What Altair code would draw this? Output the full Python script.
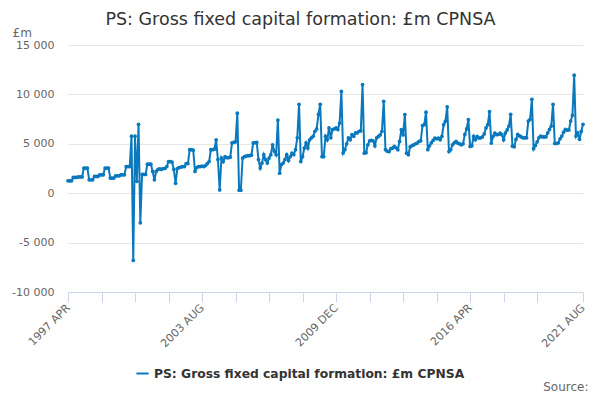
import altair as alt
import pandas as pd

series_name = "PS: Gross fixed capital formation: £m CPNSA"
start_year = 1997
start_month = 4
month_names = ["JAN", "FEB", "MAR", "APR", "MAY", "JUN",
               "JUL", "AUG", "SEP", "OCT", "NOV", "DEC"]

# £m, monthly from 1997 APR to 2021 AUG
gfcf = [
    1250, 1250, 1250, 1600, 1600, 1600, 1650, 1650, 1650,                  # 1997 APR-DEC
    2540, 2540, 2540, 1360, 1360, 1360, 1700, 1700, 1700, 1860, 1860, 1860,  # 1998
    2540, 2540, 2540, 1530, 1530, 1530, 1760, 1760, 1760, 1860, 1860, 1860,  # 1999
    2700, 2700, 2700, 5770, -6800, 5770, 1200, 6970, -3000, 1900, 1900, 1900,  # 2000
    2940, 2940, 2940, 2200, 1350, 2200, 2400, 2450, 2400, 2500, 2500, 2700,  # 2001
    3200, 3200, 3150, 2400, 1000, 2500, 2600, 2650, 2700, 2700, 3000, 3000,  # 2002
    4400, 4400, 4350, 2200, 2600, 2700, 2700, 2750, 2700, 2800, 3000, 3200,  # 2003
    4400, 4400, 4450, 5400, 3400, 330, 3560, 3200, 3700, 3600, 3600, 3650,   # 2004
    5100, 5150, 5200, 8100, 300, 300, 3560, 3700, 3750, 3800, 3800, 3850,    # 2005
    5100, 5100, 5150, 3400, 2540, 3050, 3900, 3400, 3050, 3560, 3900, 4900,  # 2006
    4240, 3900, 7400, 2030, 2900, 3050, 3400, 3900, 3300, 3700, 4050, 3900,  # 2007
    4400, 5600, 9000, 3200, 3700, 4570, 5100, 4570, 5400, 5600, 5760, 6270,  # 2008
    6500, 7970, 9000, 3700, 3700, 5760, 5400, 6600, 5600, 6440, 6500, 6600,  # 2009
    6440, 7100, 10300, 4070, 4400, 5000, 5600, 5400, 5930, 5760, 6100, 6100,  # 2010
    6270, 6300, 11000, 4050, 4100, 4900, 5300, 5350, 5300, 4800, 5600, 5750,  # 2011
    5900, 6260, 9300, 4400, 4250, 4200, 4500, 4560, 4730, 4600, 4400, 5240,  # 2012
    6430, 5900, 7960, 4050, 3900, 4700, 4800, 4900, 5000, 5070, 5240, 5300,  # 2013
    6840, 6940, 8200, 4400, 4800, 5100, 5340, 5580, 5500, 5580, 5400, 5750,  # 2014
    6940, 7280, 8740, 4220, 4400, 4900, 5100, 5240, 5070, 5000, 4900, 5000,  # 2015
    5950, 6500, 7450, 4730, 4800, 5750, 5400, 5750, 5580, 5600, 5700, 6000,  # 2016
    6600, 6940, 8250, 5070, 5750, 6090, 5920, 5950, 6090, 5920, 5400, 6100,  # 2017
    6400, 6800, 7990, 4760, 4700, 5440, 5950, 5800, 5700, 5600, 5600, 5600,  # 2018
    7300, 7470, 9500, 4500, 4830, 5200, 5600, 5780, 5700, 5700, 5700, 6100,  # 2019
    6450, 6800, 9000, 5030, 5030, 5100, 5500, 5780, 6180, 6450, 6380, 6400,  # 2020
    7300, 7870, 11950, 5780, 6100, 5450, 6250, 6970,                       # 2021 JAN-AUG
]

y_ticks = [-10000, -5000, 0, 5000, 10000, 15000]
label_idx = [0, 76, 152, 228, 292]

months = []
for k in range(len(gfcf)):
    m = start_month - 1 + k
    months.append(f"{start_year + m // 12} {month_names[m % 12]}")

last = len(gfcf) - 1
tick_idx = [k for k in range(0, last - 20, 19)] + [last]

label_expr = "''"
for idx in reversed(label_idx):
    label_expr = f"datum.value == {idx} ? '{months[idx]}' : {label_expr}"

df = pd.DataFrame({
    "i": list(range(len(gfcf))),
    "month": months,
    "value": gfcf,
    "series": series_name,
})

font = "DejaVu Sans"
blue = "#0a78bd"

chart = (
    alt.Chart(df)
    .mark_line(strokeWidth=2, point=alt.OverlayMarkDef(size=14, filled=True))
    .encode(
        x=alt.X(
            "i:Q",
            scale=alt.Scale(domain=[0, last], nice=False, zero=False),
            axis=alt.Axis(
                values=tick_idx, labelExpr=label_expr, labelAngle=-45,
                labelAlign="right", labelBaseline="middle", labelPadding=4,
                grid=False, tickSize=10, domainColor="#ccd6eb",
                tickColor="#ccd6eb", labelColor="#666666", labelFontSize=11,
                labelFont=font, labelOverlap=False,
                title="Source:", titleX=520, titleY=98, titleAlign="right",
                titleBaseline="alphabetic", titleFontWeight="normal",
                titleFontSize=12, titleColor="#666666", titleFont=font,
            ),
        ),
        y=alt.Y(
            "value:Q",
            scale=alt.Scale(domain=[-10000, 15000], nice=False),
            axis=alt.Axis(
                values=y_ticks,
                labelExpr="(datum.value < 0 ? '-' : '') + replace(format(abs(datum.value), ','), ',', ' ')",
                ticks=False, domain=False, labelPadding=14,
                gridColor="#e6e6e6", labelColor="#666666", labelFontSize=11,
                labelFont=font,
                title="£m", titleAngle=0, titleAlign="left", titleX=-56,
                titleY=-13, titleBaseline="middle", titleFontWeight="normal",
                titleFontSize=12, titleColor="#666666", titleFont=font,
            ),
        ),
        color=alt.Color(
            "series:N",
            scale=alt.Scale(range=[blue]),
            legend=alt.Legend(
                title=None, orient="none", legendX=67, legendY=321,
                symbolType="stroke", symbolSize=150, symbolStrokeWidth=2,
                labelFontSize=12.3, labelFontWeight="bold",
                labelColor="#333333", labelFont=font, labelLimit=500,
            ),
        ),
        tooltip=["month", "value"],
    )
    .properties(
        width=515,
        height=247,
        autosize=alt.AutoSizeParams(type="none"),
        padding={"left": 60, "top": 37, "right": 9, "bottom": 100},
        title=alt.TitleParams(
            series_name, anchor="middle", dx=-25, fontSize=17.5,
            fontWeight="normal", color="#333333", font=font, offset=-2,
        ),
    )
    .configure_view(stroke=None)
)

chart.save("out.html", embed_options={"renderer": "svg", "actions": False})
